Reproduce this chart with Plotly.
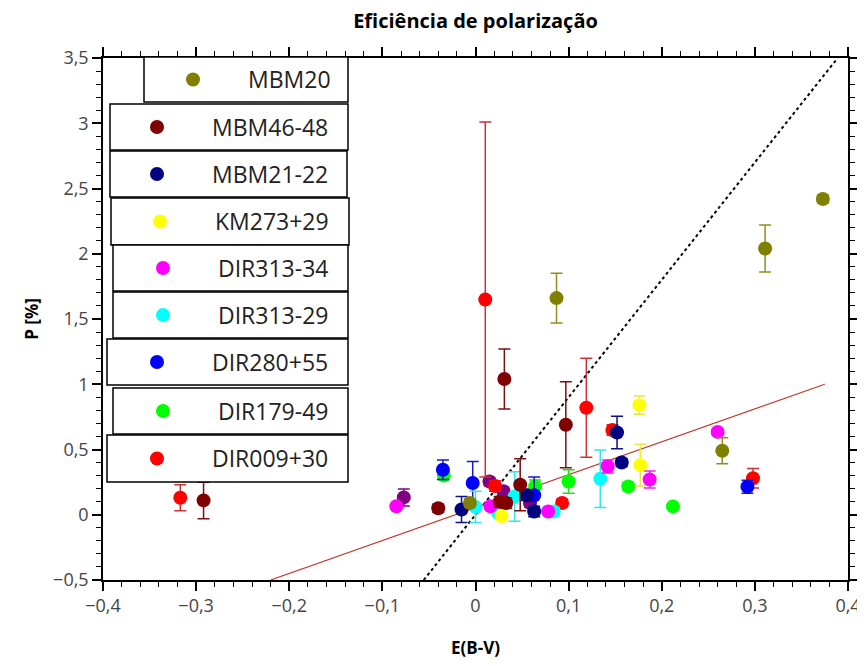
import plotly.graph_objects as go

# ---------------- data ----------------
series_names = ["MBM20", "MBM46-48", "MBM21-22", "KM273+29", "DIR313-34",
                "DIR313-29", "DIR280+55", "DIR179-49", "DIR009+30"]

mbm20_x = [0.373, 0.311, 0.265, 0.087, -0.006]
mbm20_y = [2.42, 2.04, 0.49, 1.66, 0.09]
mbm20_e = [0.03, 0.18, 0.10, 0.19, 0.03]

mbm4648_x = [-0.292, -0.040, 0.026, 0.033, 0.031, 0.048, 0.097]
mbm4648_y = [0.11, 0.05, 0.10, 0.09, 1.04, 0.23, 0.69]
mbm4648_e = [0.14, 0.03, 0.04, 0.04, 0.23, 0.20, 0.33]

mbm2122_x = [-0.015, 0.055, 0.063, 0.152, 0.157]
mbm2122_y = [0.04, 0.15, 0.025, 0.63, 0.40]
mbm2122_e = [0.10, 0.04, 0.04, 0.125, 0.03]

km27329_x = [0.028, 0.176, 0.177]
km27329_y = [-0.01, 0.84, 0.38]
km27329_e = [0.02, 0.07, 0.16]

dir31334_x = [-0.085, 0.016, 0.078, 0.142, 0.187, 0.260]
dir31334_y = [0.065, 0.065, 0.025, 0.37, 0.27, 0.635]
dir31334_e = [0.02, 0.02, 0.02, 0.05, 0.065, 0.02]

dir31329_x = [0.0, 0.0245, 0.042, 0.084, 0.134]
dir31329_y = [0.06, 0.013, 0.14, 0.025, 0.276]
dir31329_e = [0.12, 0.03, 0.19, 0.03, 0.22]

dir28055_x = [-0.035, -0.003, 0.063, 0.292]
dir28055_y = [0.345, 0.243, 0.15, 0.215]
dir28055_e = [0.075, 0.165, 0.14, 0.05]

dir17949_x = [-0.034, 0.064, 0.100, 0.164, 0.212]
dir17949_y = [0.30, 0.217, 0.255, 0.217, 0.064]
dir17949_e = [0.03, 0.05, 0.09, 0.03, 0.02]

dir00930_x = [-0.317, 0.0105, 0.021, 0.093, 0.119, 0.147, 0.298]
dir00930_y = [0.13, 1.65, 0.22, 0.09, 0.82, 0.65, 0.28]
dir00930_e = [0.10, 1.36, 0.04, 0.03, 0.38, 0.04, 0.075]

other_x = [-0.077, 0.015, 0.030, 0.0585]
other_y = [0.133, 0.255, 0.18, 0.09]
other_e = [0.065, 0.03, 0.03, 0.03]

fit_x = [-0.22, 0.375]
fit_y = [-0.5, 1.0]

maxeff_x = [-0.0556, 0.3889]
maxeff_y = [-0.5, 3.5]

x_tickvals = [-0.4, -0.3, -0.2, -0.1, 0, 0.1, 0.2, 0.3, 0.4]
y_tickvals = [-0.5, 0, 0.5, 1, 1.5, 2, 2.5, 3, 3.5]

# ---------------- style ----------------
colors = ["#808000", "#800000", "#000080", "#ffff00", "#ff00ff",
          "#00ffff", "#0000ff", "#00ff00", "#ff0000"]
err_colors = ["#8f8f20", "#7a1010", "#101080", "#e8e840", "#ee22ee",
              "#33e6e6", "#1a1acc", "#22dd22", "#cc3333"]

all_x = [mbm20_x, mbm4648_x, mbm2122_x, km27329_x, dir31334_x,
         dir31329_x, dir28055_x, dir17949_x, dir00930_x]
all_y = [mbm20_y, mbm4648_y, mbm2122_y, km27329_y, dir31334_y,
         dir31329_y, dir28055_y, dir17949_y, dir00930_y]
all_e = [mbm20_e, mbm4648_e, mbm2122_e, km27329_e, dir31334_e,
         dir31329_e, dir28055_e, dir17949_e, dir00930_e]

FONT = "Open Sans"
OFF = 8  # default page body margin
W, H = 865 - OFF, 666 - OFF
ML, MT = 103 - OFF, 58 - OFF
MR = W - (848 - OFF)
MB = H - (580 - OFF)
PW, PH = W - ML - MR, H - MT - MB


def px_x(p):
    return (p - OFF - ML) / PW


def px_y(p):
    return (H - MB - (p - OFF)) / PH


fig = go.Figure()

fig.add_trace(go.Scatter(x=fit_x, y=fit_y, mode="lines",
                         line=dict(color="#c0392b", width=1.2),
                         showlegend=False, hoverinfo="skip"))
fig.add_trace(go.Scatter(x=maxeff_x, y=maxeff_y, mode="lines",
                         line=dict(color="black", width=2, dash="dot"),
                         showlegend=False, hoverinfo="skip"))

legend_names = ["legend"] + [f"legend{i}" for i in range(2, 10)]

fig.add_trace(go.Scatter(x=other_x, y=other_y, mode="markers",
                         marker=dict(color="#800080", size=14),
                         error_y=dict(type="data", array=other_e, color="#800080",
                                      thickness=1.5, width=6),
                         showlegend=False))

for i in reversed(range(len(series_names))):
    fig.add_trace(go.Scatter(
        x=all_x[i], y=all_y[i], mode="markers", name=series_names[i],
        marker=dict(color=colors[i], size=14),
        error_y=dict(type="data", array=all_e[i], color=err_colors[i],
                     thickness=1.5, width=6),
        legend=legend_names[i],
    ))

# legend boxes (drawn as shapes) and per-box legends, in page pixels
box_left = [144, 110, 110, 111, 113, 113, 107, 113, 107]
box_right = [348, 348, 347, 349, 348, 348, 348, 348, 348]
box_top = [57, 104, 151, 198, 245, 292, 339, 388, 435]
box_bot = [102, 150, 197, 245, 291, 338, 385, 434, 482]
marker_px = [193, 157, 157, 160, 163, 163, 157, 163, 157]

shapes = []
for i in range(9):
    shapes.append(dict(type="rect", xref="paper", yref="paper",
                       x0=px_x(box_left[i]), x1=px_x(box_right[i]),
                       y0=px_y(box_bot[i]), y1=px_y(box_top[i]),
                       line=dict(color="black", width=1.5),
                       fillcolor="white", layer="above"))

layout_legends = {}
for i in range(9):
    layout_legends[legend_names[i]] = dict(
        x=px_x(marker_px[i] - 55), xanchor="left",
        y=px_y((box_top[i] + box_bot[i]) / 2), yanchor="middle",
        bgcolor="rgba(0,0,0,0)", borderwidth=0,
        font=dict(family=FONT, size=23, color="#222"),
        itemwidth=100,
    )

axis_common = dict(
    showline=True, linecolor="black", linewidth=1.5, mirror="ticks",
    ticks="outside", ticklen=9, tickwidth=1.5, tickcolor="black",
    showgrid=False, zeroline=False,
    tickfont=dict(family=FONT, size=18, color="#444"),
)

fig.update_layout(
    width=W, height=H,
    margin=dict(l=ML, r=MR, t=MT, b=MB, autoexpand=False),
    paper_bgcolor="white", plot_bgcolor="white",
    separators=",.",
    title=dict(text="<b>Eficiência de polarização</b>", x=0.5, xref="paper",
               y=1 - 13 / H, yref="container", yanchor="middle",
               font=dict(family=FONT, size=20, color="black")),
    xaxis=dict(range=[-0.4, 0.4], tickvals=x_tickvals,
               minor=dict(dtick=0.02, ticklen=5, tickwidth=1, tickcolor="black", ticks="outside"),
               title=dict(text="<b>E(B-V)</b>", font=dict(family=FONT, size=17, color="black"),
                          standoff=26),
               **axis_common),
    yaxis=dict(range=[-0.5, 3.5], tickvals=y_tickvals,
               minor=dict(dtick=0.1, ticklen=5, tickwidth=1, tickcolor="black", ticks="outside"),
               title=dict(text="<b>P [%]</b>", font=dict(family=FONT, size=17, color="black"),
                          standoff=10),
               **axis_common),
    shapes=shapes,
    **layout_legends,
)

fig.write_html("out.html")
